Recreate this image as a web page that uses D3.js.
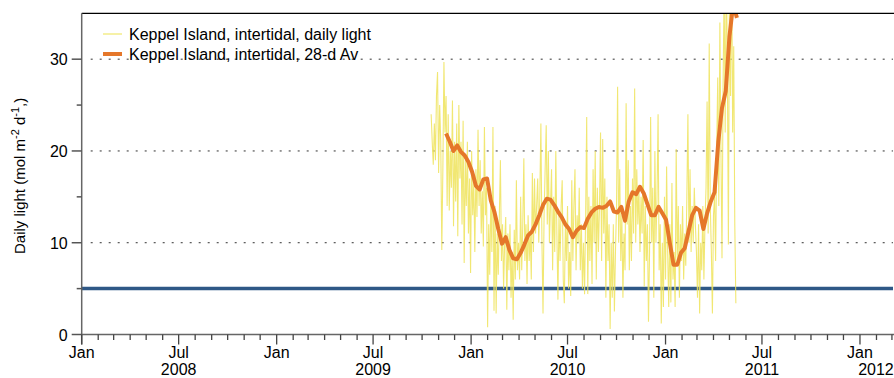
<!DOCTYPE html>
<html>
<head>
<meta charset="utf-8">
<script src="https://cdn.jsdelivr.net/npm/d3@7"></script>
<style>
  body { margin: 0; background: #fff; }
  svg text { font-family: "Liberation Sans", Arial, Helvetica, sans-serif; }
</style>
</head>
<body>
<svg id="drawing_region"></svg>
<script>
// daily light, one reading every 2 days from 18 Oct 2009
const dailyStart = new Date( 2009, 9, 18 );
const dailyStep = 2;
const dailyLight = [
    24, 21, 18.5, 23, 19, 26, 28.6, 17.6, 25, 21,
    9.2, 18, 29.7, 22, 26, 14, 24, 13.5, 20, 16,
    25.5, 11.8, 21, 14.5, 23, 10.7, 25, 17, 21, 12,
    23.3, 7.8, 19, 14, 21, 11, 17, 6.7, 20, 13,
    16.5, 9, 18, 12.8, 22.3, 14, 19, 11, 15.6, 9.6,
    22.6, 13, 16, 0.8, 12, 6.5, 15, 9, 22.6, 2.6,
    14, 2.3, 11, 6.5, 13, 19, 8, 12, 5, 10,
    12.8, 2.7, 11, 7, 12, 4, 9, 1.6, 11.4, 6,
    16.8, 7, 10, 6, 15, 7, 12, 19.2, 8, 12,
    5.5, 13, 8, 11, 6, 17.6, 9, 17, 11, 14,
    17, 10, 15, 23, 10, 2.3, 13, 18, 22.8, 12,
    20, 10, 14, 18, 7, 15, 9, 20, 11, 3.8,
    13, 8, 14, 16.8, 6, 3.4, 12, 8, 14, 5,
    9, 4.2, 16.8, 8, 14, 18, 7, 13, 10, 16,
    7, 12, 5, 10, 4.4, 13, 23.7, 4.4, 15, 8,
    14, 5.5, 18, 10, 20, 6, 16, 9, 14, 22,
    8, 21.3, 11, 17, 4, 15, 8, 12, 0.6, 10,
    4, 12, 2.5, 9, 14, 27, 10, 18, 8, 13,
    4, 11, 7, 25.2, 12, 19, 7, 14, 8, 17,
    11, 26.8, 10, 18, 12, 16, 9, 15, 11, 21.2,
    5.2, 14, 8, 12, 1.4, 9, 23.7, 10, 16, 4,
    20, 10, 15, 24, 7, 12, 1.2, 10, 3, 15,
    6, 18.3, 9, 3, 12, 3.5, 16.5, 6, 9, 3,
    20.2, 8, 14, 4, 12, 8, 14, 6, 11, 7.5,
    15, 24, 10, 18, 9, 14, 10, 16, 12, 9,
    4, 12, 2.3, 10, 7, 14, 6, 12, 16, 25.4,
    11, 31.7, 14, 9, 2.3, 13, 15, 8, 20, 28,
    14, 34, 20, 8.3, 27, 38, 22, 40, 30, 9.8,
    38, 26, 42, 22, 31.4, 12, 3.4
];

// 28-day running average, read weekly from 15 Nov 2009
const avgStart = new Date( 2009, 10, 15 );
const avgStep = 7;
const avg28 = [
    21.9, 21.0, 20.0, 20.6, 19.9, 19.5, 18.8, 17.7, 16.2, 15.8,
    16.9, 17.0, 14.6, 13.3, 11.5, 9.9, 10.6, 9.2, 8.3, 8.2,
    8.9, 9.8, 10.8, 11.2, 12.0, 13.0, 14.1, 14.8, 14.7, 14.1,
    13.4, 12.8, 12.0, 11.5, 10.6, 11.3, 11.7, 11.6, 12.6, 13.3,
    13.7, 13.9, 13.8, 14.0, 14.5, 13.4, 13.3, 13.9, 12.4, 14.5,
    15.5, 15.3, 16.1, 15.4, 14.2, 13.0, 13.0, 13.9, 13.2, 12.5,
    10.0, 7.6, 7.6, 8.9, 9.4, 11.2, 13.0, 13.8, 13.5, 11.5,
    13.2, 14.5, 15.5, 21.0, 24.7, 26.5, 32.5, 36.0, 34.5
];

const threshold = 5;
const gridValues = [ 10, 20, 30 ];
const yTicks = [ 0, 10, 20, 30 ];
const yMinorTicks = [ 5, 15, 25 ];
const legendLabels = [ 'Keppel Island, intertidal, daily light', 'Keppel Island, intertidal, 28-d Av' ];

class LightChart {

    constructor( config ) {
        this.config = config;
        this.init();
    }

    init() {
        let self = this;
        const c = self.config;

        self.svg = d3.select( c.parent )
            .attr( 'width', c.width )
            .attr( 'height', c.height );

        self.xscale = d3.scaleTime()
            .domain( [ new Date( 2008, 0, 1 ), new Date( 2012, 2, 3 ) ] )
            .range( [ c.left, c.right ] );

        self.yscale = d3.scaleLinear()
            .domain( [ 0, 35 ] )
            .range( [ c.bottom, c.top ] );

        self.svg.append( 'clipPath' ).attr( 'id', 'plotclip' )
            .append( 'rect' )
            .attr( 'x', c.left ).attr( 'y', c.top )
            .attr( 'width', c.right - c.left + 1 ).attr( 'height', c.bottom - c.top );
    }

    render() {
        let self = this;
        const c = self.config;
        const svg = self.svg;
        const x = self.xscale, y = self.yscale;

        // dotted grid
        svg.selectAll( '.grid' )
            .data( gridValues )
            .enter()
            .append( 'line' )
            .attr( 'x1', c.left + 9 ).attr( 'x2', c.right )
            .attr( 'y1', d => y( d ) ).attr( 'y2', d => y( d ) )
            .attr( 'stroke', '#333' )
            .attr( 'stroke-width', 1 )
            .attr( 'stroke-dasharray', '2,7' );

        const plot = svg.append( 'g' ).attr( 'clip-path', 'url(#plotclip)' );

        // threshold line
        plot.append( 'line' )
            .attr( 'x1', c.left ).attr( 'x2', c.right )
            .attr( 'y1', y( threshold ) ).attr( 'y2', y( threshold ) )
            .attr( 'stroke', '#2f5886' )
            .attr( 'stroke-width', 3.5 );

        const daily = dailyLight.map( ( v, i ) => ( { date: d3.timeDay.offset( dailyStart, i * dailyStep ), value: v } ) );
        const avg = avg28.map( ( v, i ) => ( { date: d3.timeDay.offset( avgStart, i * avgStep ), value: v } ) );

        const line = d3.line()
            .x( d => x( d.date ) )
            .y( d => y( d.value ) );

        plot.append( 'path' )
            .datum( daily )
            .attr( 'd', line )
            .attr( 'fill', 'none' )
            .attr( 'stroke', '#efe35a' )
            .attr( 'stroke-opacity', 0.85 )
            .attr( 'stroke-width', 1.1 );

        plot.append( 'path' )
            .datum( avg )
            .attr( 'd', line )
            .attr( 'fill', 'none' )
            .attr( 'stroke', '#e5772a' )
            .attr( 'stroke-width', 4 )
            .attr( 'stroke-linejoin', 'round' );

        // top border
        svg.append( 'line' )
            .attr( 'x1', c.left ).attr( 'x2', c.right + 1 )
            .attr( 'y1', c.top ).attr( 'y2', c.top )
            .attr( 'stroke', '#000' ).attr( 'stroke-width', 1.2 );

        // y axis
        const yaxis = svg.append( 'g' );
        yaxis.append( 'line' )
            .attr( 'x1', c.left ).attr( 'x2', c.left )
            .attr( 'y1', c.top ).attr( 'y2', c.bottom + 10 )
            .attr( 'stroke', '#666' ).attr( 'stroke-width', 1.5 );
        yaxis.selectAll( '.ymajor' )
            .data( yTicks ).enter().append( 'line' )
            .attr( 'x1', c.left - 10 ).attr( 'x2', c.left )
            .attr( 'y1', d => y( d ) ).attr( 'y2', d => y( d ) )
            .attr( 'stroke', '#555' ).attr( 'stroke-width', 1.5 );
        yaxis.selectAll( '.yminor' )
            .data( yMinorTicks ).enter().append( 'line' )
            .attr( 'x1', c.left - 5 ).attr( 'x2', c.left )
            .attr( 'y1', d => y( d ) ).attr( 'y2', d => y( d ) )
            .attr( 'stroke', '#555' ).attr( 'stroke-width', 1.5 );
        yaxis.selectAll( '.ylabel' )
            .data( yTicks ).enter().append( 'text' )
            .attr( 'x', c.left - 14 )
            .attr( 'y', d => y( d ) + 6 )
            .attr( 'text-anchor', 'end' )
            .style( 'font-size', '16px' )
            .text( d => d );

        // x axis
        const months = x.ticks( d3.timeMonth.every( 1 ) );
        const isMajor = d => d.getMonth() === 0 || d.getMonth() === 6;
        const xaxis = svg.append( 'g' );
        xaxis.append( 'line' )
            .attr( 'x1', c.left ).attr( 'x2', c.right + 1 )
            .attr( 'y1', c.bottom ).attr( 'y2', c.bottom )
            .attr( 'stroke', '#666' ).attr( 'stroke-width', 1.5 );
        xaxis.selectAll( '.xtick' )
            .data( months ).enter().append( 'line' )
            .attr( 'x1', d => x( d ) ).attr( 'x2', d => x( d ) )
            .attr( 'y1', c.bottom )
            .attr( 'y2', d => c.bottom + ( isMajor( d ) ? 10 : 5.5 ) )
            .attr( 'stroke', '#444' ).attr( 'stroke-width', 1.3 );
        xaxis.selectAll( '.xmonth' )
            .data( months.filter( isMajor ) ).enter().append( 'text' )
            .attr( 'x', d => x( d ) )
            .attr( 'y', c.bottom + 23.5 )
            .attr( 'text-anchor', 'middle' )
            .style( 'font-size', '16px' )
            .text( d => d3.timeFormat( '%b' )( d ) );
        xaxis.selectAll( '.xyear' )
            .data( months.filter( d => d.getMonth() === 6 ) ).enter().append( 'text' )
            .attr( 'x', d => x( d ) )
            .attr( 'y', c.bottom + 40 )
            .attr( 'text-anchor', 'middle' )
            .style( 'font-size', '16px' )
            .text( d => d.getFullYear() );
        // 2012 label sits under its Jan tick at the right edge
        xaxis.append( 'text' )
            .attr( 'x', x( new Date( 2012, 0, 1 ) ) + 16 )
            .attr( 'y', c.bottom + 40 )
            .attr( 'text-anchor', 'middle' )
            .style( 'font-size', '16px' )
            .text( '2012' );

        // y axis title
        const title = svg.append( 'text' )
            .attr( 'transform', `translate(25, ${( c.top + c.bottom ) / 2 + 2}) rotate(-90)` )
            .attr( 'text-anchor', 'middle' )
            .style( 'font-size', '15px' );
        title.append( 'tspan' ).text( 'Daily light (mol m' );
        title.append( 'tspan' ).attr( 'dy', -6 ).style( 'font-size', '11px' ).text( '-2' );
        title.append( 'tspan' ).attr( 'dy', 6 ).text( ' d' );
        title.append( 'tspan' ).attr( 'dy', -6 ).style( 'font-size', '11px' ).text( '-1' );
        title.append( 'tspan' ).attr( 'dy', 6 ).text( ',)' );

        // legend
        const legend = svg.append( 'g' );
        legend.selectAll( '.lgline' )
            .data( legendLabels ).enter().append( 'line' )
            .attr( 'x1', 103 ).attr( 'x2', 122 )
            .attr( 'y1', ( d, i ) => 34 + i * 20 ).attr( 'y2', ( d, i ) => 34 + i * 20 )
            .attr( 'stroke', ( d, i ) => i === 0 ? '#f3ec8a' : '#e5772a' )
            .attr( 'stroke-width', ( d, i ) => i === 0 ? 1.5 : 4 );
        legend.selectAll( '.lgtext' )
            .data( legendLabels ).enter().append( 'text' )
            .attr( 'x', 129 )
            .attr( 'y', ( d, i ) => 40 + i * 20 )
            .style( 'font-size', '16px' )
            .text( d => d );
    }
}

const chart = new LightChart( {
    parent: '#drawing_region',
    width: 894,
    height: 378,
    left: 81.7,
    right: 893,
    top: 13.3,
    bottom: 334.5
} );
chart.render();
</script>
</body>
</html>
